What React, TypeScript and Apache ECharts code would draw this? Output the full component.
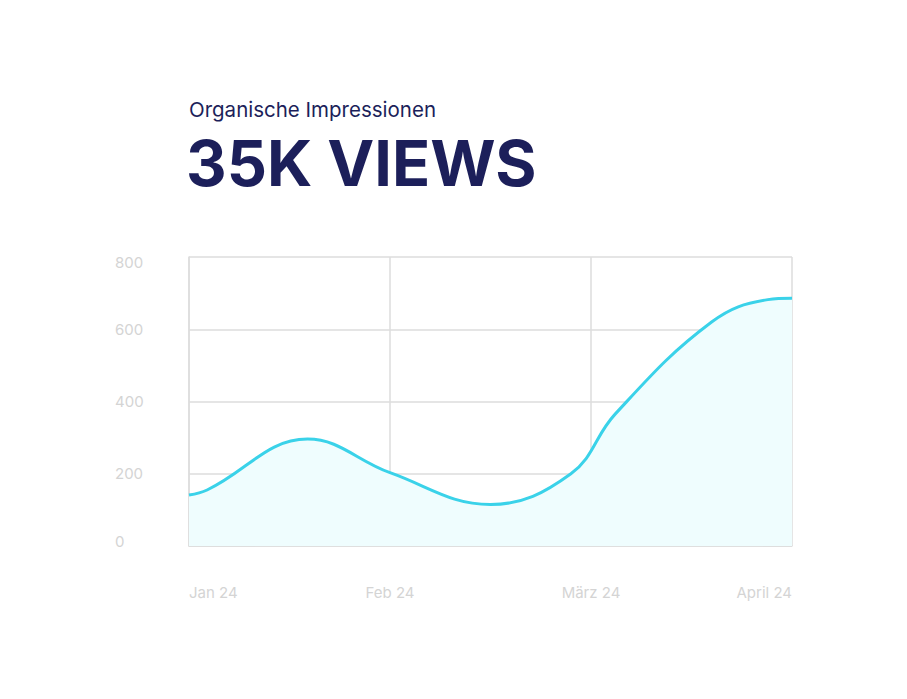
import React, { useEffect, useRef } from "react";
import * as echarts from "echarts";

const months = ["Jan 24", "Feb 24", "März 24", "April 24"];
const yTicks = [0, 200, 400, 600, 800];
const pointX = [0, 0.09, 0.59, 1.0, 1.5, 1.9, 2.12, 2.6, 2.88, 3.0];
const pointY = [141, 155, 296, 203, 115, 200, 365, 620, 682, 686];
const subtitle = "Organische Impressionen";
const headline = "35K VIEWS";

export default function App() {
  const ref = useRef<HTMLDivElement>(null);
  useEffect(() => {
    if (!ref.current) return;
    const chart = echarts.init(ref.current, null, { renderer: "svg" });
    const data = pointX.map((x, i) => [x, pointY[i]]);
    chart.setOption({
      animation: false,
      backgroundColor: "#ffffff",
      textStyle: { fontFamily: "Inter" },
      graphic: [
        {
          type: "text",
          left: 189,
          top: 99,
          style: {
            text: subtitle,
            fontFamily: "Inter",
            fontSize: 20.5,
            fontWeight: 400,
            fill: "#1c1f5a",
          },
        },
        {
          type: "text",
          left: 186,
          top: 131,
          style: {
            text: headline,
            fontFamily: "Inter",
            fontSize: 63,
            fontWeight: 700,
            fill: "#1c1f5a",
          },
        },
      ],
      grid: { left: 189, right: 115, top: 257, bottom: 153, containLabel: false },
      xAxis: {
        type: "value",
        min: 0,
        max: months.length - 1,
        interval: 1,
        axisLine: { show: true, lineStyle: { color: "#dcdcdc", width: 1.5 } },
        axisTick: { show: false },
        splitLine: { show: true, lineStyle: { color: "#dcdcdc", width: 1.5 } },
        axisLabel: {
          formatter: (v: number) => months[Math.round(v)] ?? "",
          color: "#d4d4d4",
          fontSize: 15,
          fontFamily: "Inter",
          margin: 39,
          alignMinLabel: "left",
          alignMaxLabel: "right",
        },
      },
      yAxis: {
        type: "value",
        min: yTicks[0],
        max: yTicks[yTicks.length - 1],
        interval: 200,
        axisLine: { show: true, lineStyle: { color: "#dcdcdc", width: 1.5 } },
        axisTick: { show: false },
        splitLine: { show: true, lineStyle: { color: "#dcdcdc", width: 1.5 } },
        axisLabel: {
          color: "#d4d4d4",
          fontSize: 15,
          fontFamily: "Inter",
          align: "left",
          margin: 74,
          formatter: (v: number) => {
            if (v === yTicks[0]) return "{lo|" + v + "}";
            if (v === yTicks[yTicks.length - 1]) return "{hi|" + v + "}";
            return String(v);
          },
          rich: {
            lo: { color: "#d4d4d4", fontSize: 15, fontFamily: "Inter", padding: [0, 0, 9, 0] },
            hi: { color: "#d4d4d4", fontSize: 15, fontFamily: "Inter", padding: [11, 0, 0, 0] },
          },
        },
      },
      series: [
        {
          type: "line",
          data,
          smooth: 0.4,
          symbol: "none",
          lineStyle: { color: "#3ad2e9", width: 3 },
          areaStyle: { color: "#effdfe", opacity: 1 },
        },
      ],
    });
    return () => chart.dispose();
  }, []);
  return (
    <div
      ref={ref}
      style={{ position: "fixed", left: 0, top: 0, width: 907, height: 699 }}
    />
  );
}
